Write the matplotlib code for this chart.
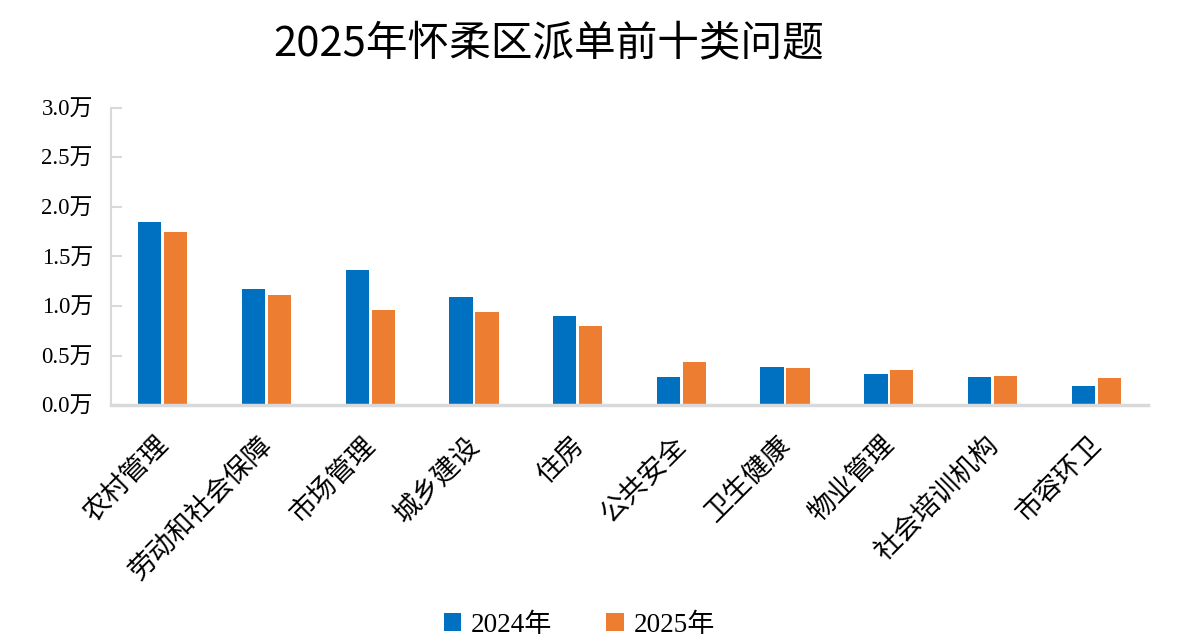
import matplotlib.pyplot as plt
import matplotlib.transforms as mtransforms
import numpy as np

# data (unit: 万)
categories = ['农村管理', '劳动和社会保障', '市场管理', '城乡建设', '住房',
              '公共安全', '卫生健康', '物业管理', '社会培训机构', '市容环卫']
values_2024 = [1.85, 1.17, 1.36, 1.09, 0.90, 0.28, 0.38, 0.31, 0.28, 0.19]
values_2025 = [1.75, 1.11, 0.96, 0.94, 0.80, 0.43, 0.37, 0.35, 0.29, 0.27]
series_names = ['2024年', '2025年']
yticks = [0.0, 0.5, 1.0, 1.5, 2.0, 2.5, 3.0]

blue = '#0070C0'
orange = '#ED7D31'
grey = '#D9D9D9'
serif = ['Liberation Serif', 'Noto Sans CJK SC']
cjk = ['Noto Sans CJK SC', 'DejaVu Sans']

fig = plt.figure(figsize=(11.8, 6.43), dpi=100)
ax = fig.add_axes([0.094, 0.370, 0.879, 0.4625])

x = np.arange(len(categories))
w = 0.225
ax.bar(x - 0.125, values_2024, w, color=blue, label=series_names[0])
ax.bar(x + 0.125, values_2025, w, color=orange, label=series_names[1])

ax.set_xlim(-0.5, len(categories) - 0.5)
ax.set_ylim(0, 3.0)
ax.set_yticks(yticks)
ax.set_yticklabels([f'{v:.1f}万' for v in yticks], family=serif, fontsize=16.5)
ax.tick_params(axis='y', direction='in', length=8, width=1.5, color=grey, pad=13)

ax.set_xticks(x)
ax.set_xticklabels(categories, family=cjk, fontsize=19.5, rotation=45,
                   ha='right', va='top', rotation_mode='anchor')
ax.tick_params(axis='x', length=0, pad=19)
offset = mtransforms.ScaledTranslation(-8 / 100, 0, fig.dpi_scale_trans)
for lab in ax.get_xticklabels():
    lab.set_transform(lab.get_transform() + offset)

for s in ['top', 'right']:
    ax.spines[s].set_visible(False)
ax.spines['left'].set_color(grey)
ax.spines['left'].set_linewidth(1.5)
ax.spines['bottom'].set_color(grey)
ax.spines['bottom'].set_linewidth(2.5)

fig.text(0.465, 0.93, '2025年怀柔区派单前十类问题', family=cjk, fontsize=30,
         ha='center', va='center')

fig.legend(loc='lower center', bbox_to_anchor=(0.491, -0.03), ncol=2, frameon=False,
           prop={'family': serif, 'size': 19.5}, handlelength=0.65, handleheight=0.65,
           handletextpad=0.35, columnspacing=2.0)

fig.savefig('out.png', dpi=100)
